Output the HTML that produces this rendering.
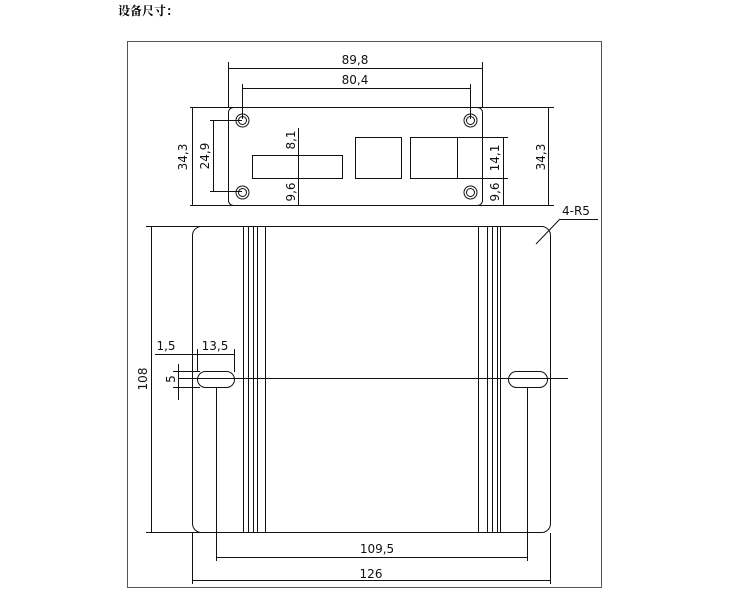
<!DOCTYPE html>
<html><head><meta charset="utf-8"><style>
html,body{margin:0;padding:0;background:#fff;width:750px;height:611px;overflow:hidden}
svg{display:block}
.t{font-family:"DejaVu Sans","Liberation Sans",sans-serif;font-size:12px;fill:#111}
</style></head><body>
<svg width="750" height="611" viewBox="0 0 750 611" xmlns="http://www.w3.org/2000/svg">
<text x="118" y="15" style="font-family:'Liberation Serif','Noto Serif CJK SC',serif;font-size:12px;font-weight:bold">设备尺寸：</text>
<rect x="127.5" y="41.5" width="474" height="546" fill="none" stroke="#555" stroke-width="1"/>
<g stroke="#111" stroke-width="1" fill="none">
<!-- front panel -->
<rect x="228.5" y="107.5" width="254" height="98" rx="5"/>
<line x1="190" y1="107.5" x2="554" y2="107.5"/>
<line x1="190" y1="205.5" x2="554" y2="205.5"/>
<line x1="192.5" y1="108" x2="192.5" y2="205"/>
<line x1="548.5" y1="108" x2="548.5" y2="205"/>
<line x1="228.5" y1="62" x2="228.5" y2="107"/>
<line x1="482.5" y1="62" x2="482.5" y2="107"/>
<line x1="228" y1="68.5" x2="483" y2="68.5"/>
<line x1="242.5" y1="84" x2="242.5" y2="119"/>
<line x1="470.5" y1="84" x2="470.5" y2="119"/>
<line x1="242" y1="88.5" x2="471" y2="88.5"/>
<circle cx="242.5" cy="120.5" r="6.5"/><circle cx="242.5" cy="120.5" r="4"/>
<circle cx="470.5" cy="120.5" r="6.5"/><circle cx="470.5" cy="120.5" r="4"/>
<circle cx="242.5" cy="192.5" r="6.5"/><circle cx="242.5" cy="192.5" r="4"/>
<circle cx="470.5" cy="192.5" r="6.5"/><circle cx="470.5" cy="192.5" r="4"/>
<line x1="210" y1="120.5" x2="242" y2="120.5"/>
<line x1="210" y1="191.5" x2="242" y2="191.5"/>
<line x1="213.5" y1="120" x2="213.5" y2="192"/>
<rect x="252.5" y="155.5" width="90" height="23"/>
<line x1="298.5" y1="128" x2="298.5" y2="205"/>
<rect x="355.5" y="137.5" width="46" height="41"/>
<rect x="410.5" y="137.5" width="72" height="41"/>
<line x1="457.5" y1="137" x2="457.5" y2="178"/>
<line x1="482" y1="137.5" x2="508" y2="137.5"/>
<line x1="482" y1="178.5" x2="508" y2="178.5"/>
<line x1="503.5" y1="137" x2="503.5" y2="205"/>
<!-- body -->
<rect x="192.5" y="226.5" width="358" height="306" rx="9"/>
<line x1="146" y1="226.5" x2="215" y2="226.5"/>
<line x1="146" y1="532.5" x2="215" y2="532.5"/>
<line x1="151.5" y1="227" x2="151.5" y2="532"/>
<line x1="243.5" y1="226" x2="243.5" y2="532"/>
<line x1="248.5" y1="226" x2="248.5" y2="532"/>
<line x1="253.5" y1="226" x2="253.5" y2="532"/>
<line x1="257.5" y1="226" x2="257.5" y2="532"/>
<line x1="265.5" y1="226" x2="265.5" y2="532"/>
<line x1="478.5" y1="226" x2="478.5" y2="532"/>
<line x1="487.5" y1="226" x2="487.5" y2="532"/>
<line x1="492.5" y1="226" x2="492.5" y2="532"/>
<line x1="497.5" y1="226" x2="497.5" y2="532"/>
<line x1="500.5" y1="226" x2="500.5" y2="532"/>
<line x1="178" y1="378.5" x2="568" y2="378.5"/>
<rect x="197.5" y="371.5" width="37" height="16" rx="8"/>
<rect x="508.5" y="371.5" width="39" height="16" rx="8"/>
<line x1="216.5" y1="388" x2="216.5" y2="561"/>
<line x1="527.5" y1="388" x2="527.5" y2="561"/>
<line x1="216" y1="557.5" x2="528" y2="557.5"/>
<line x1="192.5" y1="533" x2="192.5" y2="584"/>
<line x1="550.5" y1="533" x2="550.5" y2="584"/>
<line x1="192" y1="580.5" x2="551" y2="580.5"/>
<line x1="155" y1="354.5" x2="234" y2="354.5"/>
<line x1="197.5" y1="349" x2="197.5" y2="372"/>
<line x1="234.5" y1="349" x2="234.5" y2="372"/>
<line x1="178.5" y1="364" x2="178.5" y2="400"/>
<line x1="173" y1="371.5" x2="200" y2="371.5"/>
<line x1="173" y1="387.5" x2="200" y2="387.5"/>
<line x1="536" y1="244" x2="560" y2="219"/>
<line x1="560" y1="219.5" x2="598" y2="219.5"/>
</g>
<g class="t">
<text x="355" y="64" text-anchor="middle">89,8</text>
<text x="355" y="84" text-anchor="middle">80,4</text>
<text transform="translate(187,157) rotate(-90)" text-anchor="middle">34,3</text>
<text transform="translate(545,157) rotate(-90)" text-anchor="middle">34,3</text>
<text transform="translate(209,156) rotate(-90)" text-anchor="middle">24,9</text>
<text transform="translate(295,140) rotate(-90)" text-anchor="middle">8,1</text>
<text transform="translate(295,192) rotate(-90)" text-anchor="middle">9,6</text>
<text transform="translate(499,158) rotate(-90)" text-anchor="middle">14,1</text>
<text transform="translate(499,192) rotate(-90)" text-anchor="middle">9,6</text>
<text x="562" y="215">4-R5</text>
<text transform="translate(147,379) rotate(-90)" text-anchor="middle">108</text>
<text x="166" y="350" text-anchor="middle">1,5</text>
<text x="215" y="350" text-anchor="middle">13,5</text>
<text transform="translate(175,379) rotate(-90)" text-anchor="middle">5</text>
<text x="377" y="553" text-anchor="middle">109,5</text>
<text x="371" y="578" text-anchor="middle">126</text>
</g>
</svg>
</body></html>
